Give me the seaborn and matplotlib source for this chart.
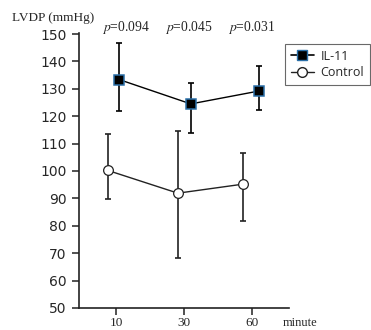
import numpy as np
import pandas as pd
import matplotlib
matplotlib.use("Agg")
import matplotlib.pyplot as plt
import seaborn as sns
from matplotlib.lines import Line2D

sns.set_style("ticks")
plt.rcParams['mathtext.fontset'] = 'stix'

minutes = ["10", "30", "60"]
il11_mean = [133.4, 124.5, 129.2]
il11_err_low = [11.6, 10.8, 6.9]
il11_err_high = [13.5, 7.5, 9.1]
ctrl_mean = [100.2, 91.9, 95.2]
ctrl_err_low = [10.4, 23.7, 13.5]
ctrl_err_high = [13.2, 22.7, 11.2]
p_labels = ["0.094", "0.045", "0.031"]
yticks = [50, 60, 70, 80, 90, 100, 110, 120, 130, 140, 150]

fig = plt.figure(figsize=(3.71, 3.30), dpi=100)
ax = fig.add_axes([0.213, 0.067, 0.566, 0.833])

idx = np.arange(len(minutes))
il_x = idx + np.array([0.045, 0.10, 0.10])
ct_x = idx + np.array([-0.12, -0.09, -0.13])
p_x = idx + np.array([0.15, 0.07, 0.0])

df = pd.concat([
    pd.DataFrame({"x": il_x, "y": il11_mean, "group": "IL-11"}),
    pd.DataFrame({"x": ct_x, "y": ctrl_mean, "group": "Control"}),
])

ax.errorbar(il_x, il11_mean, yerr=[il11_err_low, il11_err_high], fmt="none",
            ecolor="black", elinewidth=1.2, capsize=2.5, capthick=1.2, zorder=2)
ax.errorbar(ct_x, ctrl_mean, yerr=[ctrl_err_low, ctrl_err_high], fmt="none",
            ecolor="#222222", elinewidth=1.2, capsize=2.5, capthick=1.2, zorder=2)

sns.lineplot(data=df[df.group == "IL-11"], x="x", y="y", ax=ax, color="black",
             lw=1.0, marker="s", markersize=7.5, markerfacecolor="black",
             markeredgecolor="#2a6fa8", markeredgewidth=1.1, zorder=3, legend=False)
sns.lineplot(data=df[df.group == "Control"], x="x", y="y", ax=ax, color="#222222",
             lw=1.0, marker="o", markersize=7, markerfacecolor="white",
             markeredgecolor="#222222", markeredgewidth=0.9, zorder=3, legend=False)

ax.set_xlim(-0.545, 2.545)
ax.set_ylim(50, 150.4)
ax.set_xticks(idx)
ax.set_xticklabels(minutes, fontfamily="Liberation Serif", fontsize=9.5)
ax.set_yticks(yticks)
ax.set_yticklabels([str(v) for v in yticks], fontfamily="DejaVu Sans", fontsize=10)
ax.set_xlabel("")
ax.set_ylabel("")
for s in ["top", "right"]:
    ax.spines[s].set_visible(False)
for s in ["left", "bottom"]:
    ax.spines[s].set_linewidth(1.2)
    ax.spines[s].set_color("#222222")
ax.tick_params(axis="both", direction="out", length=5, width=1.1, color="#222222")
ax.tick_params(axis="y", pad=4)
ax.tick_params(axis="x", pad=1.5)

fig.text(0.033, 0.944, "LVDP (mmHg)", fontfamily="Liberation Serif", fontsize=9.5, va="center")
for xp, p in zip(p_x, p_labels):
    ax.text(xp, 1.02, r"$p$=" + p, transform=ax.get_xaxis_transform(),
            ha="center", va="center", fontfamily="Liberation Serif", fontsize=9.8)
fig.text(0.762, 0.022, "minute", fontfamily="Liberation Serif", fontsize=9, va="center")

handles = [
    Line2D([0], [0], color="black", lw=1.2, marker="s", markersize=7,
           markerfacecolor="black", markeredgecolor="#2a6fa8"),
    Line2D([0], [0], color="#222222", lw=1.0, marker="o", markersize=7,
           markerfacecolor="white", markeredgecolor="#222222"),
]
leg = fig.legend(handles, ["IL-11", "Control"], loc="upper left",
                 bbox_to_anchor=(0.768, 0.867), borderaxespad=0, frameon=True, fancybox=False,
                 edgecolor="#444444", prop={"family": "Open Sans", "size": 9},
                 handlelength=1.9, handletextpad=0.5, borderpad=0.45, labelspacing=0.3)
leg.get_frame().set_linewidth(0.8)

fig.savefig("out.png", dpi=100)
